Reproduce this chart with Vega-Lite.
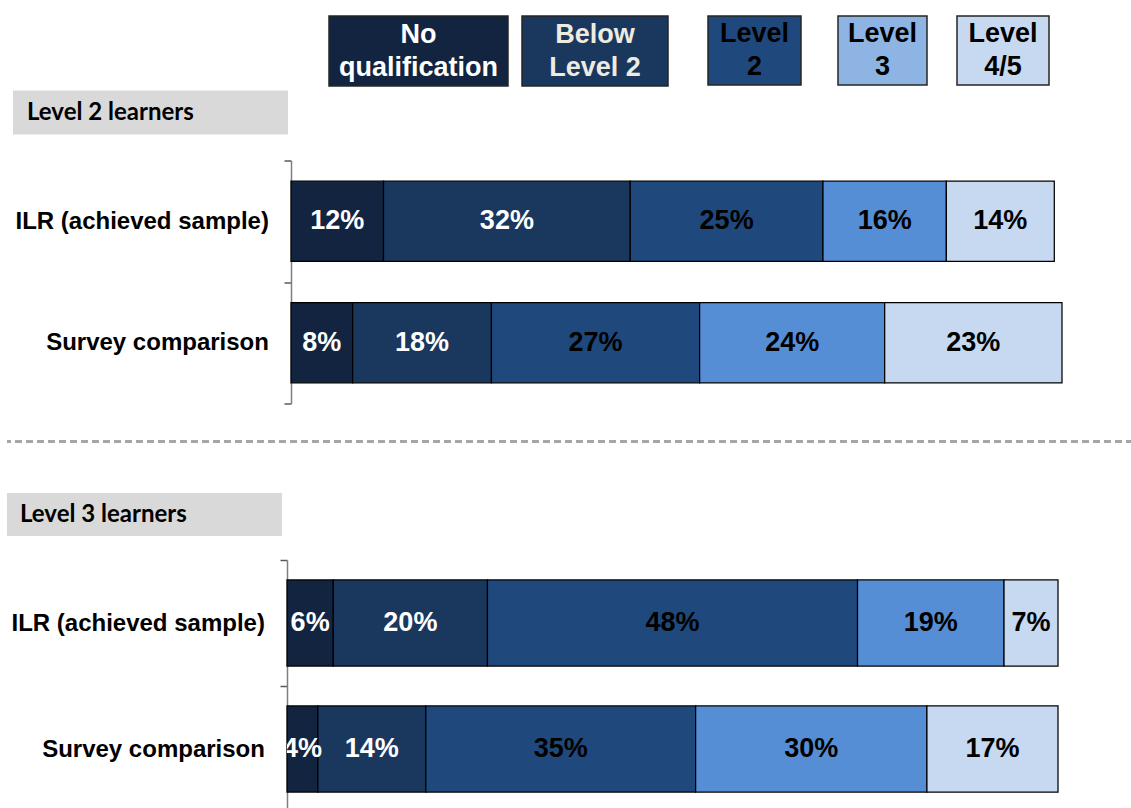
{
  "$schema": "https://vega.github.io/schema/vega-lite/v6.json",
  "background": "white",
  "padding": {"left": 5, "top": 15, "right": 0, "bottom": 0},
  "datasets": {
    "bars": [
      {"panel": "L2", "row": "ILR (achieved sample)", "category": "No qualification", "rank": 1, "value": 0.12},
      {"panel": "L2", "row": "ILR (achieved sample)", "category": "Below Level 2", "rank": 2, "value": 0.32},
      {"panel": "L2", "row": "ILR (achieved sample)", "category": "Level 2", "rank": 3, "value": 0.25},
      {"panel": "L2", "row": "ILR (achieved sample)", "category": "Level 3", "rank": 4, "value": 0.16},
      {"panel": "L2", "row": "ILR (achieved sample)", "category": "Level 4/5", "rank": 5, "value": 0.14},
      {"panel": "L2", "row": "Survey comparison", "category": "No qualification", "rank": 1, "value": 0.08},
      {"panel": "L2", "row": "Survey comparison", "category": "Below Level 2", "rank": 2, "value": 0.18},
      {"panel": "L2", "row": "Survey comparison", "category": "Level 2", "rank": 3, "value": 0.27},
      {"panel": "L2", "row": "Survey comparison", "category": "Level 3", "rank": 4, "value": 0.24},
      {"panel": "L2", "row": "Survey comparison", "category": "Level 4/5", "rank": 5, "value": 0.23},
      {"panel": "L3", "row": "ILR (achieved sample)", "category": "No qualification", "rank": 1, "value": 0.06},
      {"panel": "L3", "row": "ILR (achieved sample)", "category": "Below Level 2", "rank": 2, "value": 0.20},
      {"panel": "L3", "row": "ILR (achieved sample)", "category": "Level 2", "rank": 3, "value": 0.48},
      {"panel": "L3", "row": "ILR (achieved sample)", "category": "Level 3", "rank": 4, "value": 0.19},
      {"panel": "L3", "row": "ILR (achieved sample)", "category": "Level 4/5", "rank": 5, "value": 0.07},
      {"panel": "L3", "row": "Survey comparison", "category": "No qualification", "rank": 1, "value": 0.04},
      {"panel": "L3", "row": "Survey comparison", "category": "Below Level 2", "rank": 2, "value": 0.14},
      {"panel": "L3", "row": "Survey comparison", "category": "Level 2", "rank": 3, "value": 0.35},
      {"panel": "L3", "row": "Survey comparison", "category": "Level 3", "rank": 4, "value": 0.30},
      {"panel": "L3", "row": "Survey comparison", "category": "Level 4/5", "rank": 5, "value": 0.17}
    ]
  },
  "spacing": 3.5,
  "vconcat": [
    {
      "spacing": 0,
      "hconcat": [
        {"width": 321, "height": 1, "data": {"values": []}, "mark": "point"},
        {
          "spacing": 12,
          "hconcat": [
            {"width": 179, "height": 70, "view": {"fill": "#12243F", "stroke": "#262626", "strokeWidth": 1.5},
             "data": {"values": [{"label": "No|qualification"}]},
             "mark": {"type": "text", "lineBreak": "|", "lineHeight": 33, "dy": -16.5, "font": "Liberation Sans", "fontWeight": "bold", "fontSize": 27, "color": "#FFFFFF"},
             "encoding": {"text": {"field": "label", "type": "nominal"}}},
            {
              "spacing": 38,
              "hconcat": [
                {"width": 146, "height": 70, "view": {"fill": "#1A375E", "stroke": "#262626", "strokeWidth": 1.5},
                 "data": {"values": [{"label": "Below|Level 2"}]},
                 "mark": {"type": "text", "lineBreak": "|", "lineHeight": 33, "dy": -16.5, "font": "Liberation Sans", "fontWeight": "bold", "fontSize": 27, "color": "#EEECE1"},
                 "encoding": {"text": {"field": "label", "type": "nominal"}}},
                {
                  "spacing": 35,
                  "hconcat": [
                    {"width": 93, "height": 69, "view": {"fill": "#1F497D", "stroke": "#262626", "strokeWidth": 1.5},
                     "data": {"values": [{"label": "Level|2"}]},
                     "mark": {"type": "text", "lineBreak": "|", "lineHeight": 33, "dy": -16.5, "font": "Liberation Sans", "fontWeight": "bold", "fontSize": 27, "color": "#000000"},
                     "encoding": {"text": {"field": "label", "type": "nominal"}}},
                    {
                      "spacing": 28,
                      "hconcat": [
                        {"width": 89, "height": 69, "view": {"fill": "#8DB4E2", "stroke": "#262626", "strokeWidth": 1.5},
                         "data": {"values": [{"label": "Level|3"}]},
                         "mark": {"type": "text", "lineBreak": "|", "lineHeight": 33, "dy": -16.5, "font": "Liberation Sans", "fontWeight": "bold", "fontSize": 27, "color": "#000000"},
                         "encoding": {"text": {"field": "label", "type": "nominal"}}},
                        {"width": 92, "height": 69, "view": {"fill": "#C6D9F1", "stroke": "#262626", "strokeWidth": 1.5},
                         "data": {"values": [{"label": "Level|4/5"}]},
                         "mark": {"type": "text", "lineBreak": "|", "lineHeight": 33, "dy": -16.5, "font": "Liberation Sans", "fontWeight": "bold", "fontSize": 27, "color": "#000000"},
                         "encoding": {"text": {"field": "label", "type": "nominal"}}}
                      ]
                    }
                  ]
                }
              ]
            }
          ]
        }
      ]
    },
    {
      "spacing": 14,
      "vconcat": [
        {
          "spacing": 0,
          "hconcat": [
            {"width": 6, "height": 1, "data": {"values": []}, "mark": "point"},
            {"width": 275, "height": 44, "view": {"fill": "#D9D9D9", "stroke": null},
             "data": {"values": [{"h": "Level 2 learners"}]},
             "mark": {"type": "text", "align": "left", "dx": 14, "font": "Lato", "fontWeight": "bold", "fontSize": 24, "color": "#000000"},
             "encoding": {
               "text": {"field": "h", "type": "nominal"},
               "x": {"datum": 0, "type": "quantitative", "scale": {"domain": [0, 1]}, "axis": null}
             }}
          ]
        },
        {
          "spacing": 35,
          "vconcat": [
            {
              "spacing": 0,
              "hconcat": [
                {"width": 7, "height": 1, "data": {"values": []}, "mark": "point"},
                {
                  "width": 771, "height": 243,
                  "data": {"name": "bars"},
                  "transform": [
                    {"filter": "datum.panel === 'L2'"},
                    {"stack": "value", "groupby": ["row"], "sort": [{"field": "rank", "order": "ascending"}], "as": ["x0", "x1"]}
                  ],
                  "layer": [
                    {
                      "mark": {"type": "bar", "stroke": "#000000", "strokeWidth": 1.25, "height": {"band": 0.66}},
                      "encoding": {
                        "y": {"field": "row", "type": "nominal", "sort": ["ILR (achieved sample)", "Survey comparison"], "scale": {"paddingInner": 0, "paddingOuter": 0}, "axis": {"title": null}},
                        "x": {"field": "x0", "type": "quantitative", "scale": {"domain": [0, 1]}, "axis": null},
                        "x2": {"field": "x1"},
                        "color": {"field": "category", "type": "nominal", "scale": {"domain": ["No qualification", "Below Level 2", "Level 2", "Level 3", "Level 4/5"], "range": ["#12243F", "#1A375E", "#1F497D", "#558ED5", "#C6D9F1"]}, "legend": null}
                      }
                    },
                    {
                      "transform": [
                        {"fold": ["x0", "x1"], "as": ["edge", "pos"]},
                        {"aggregate": [{"op": "mean", "field": "pos", "as": "mid"}], "groupby": ["row", "category", "value"]}
                      ],
                      "mark": {"type": "text", "font": "Liberation Sans", "fontWeight": "bold", "fontSize": 27, "clip": true},
                      "encoding": {
                        "y": {"field": "row", "type": "nominal", "sort": ["ILR (achieved sample)", "Survey comparison"]},
                        "x": {"field": "mid", "type": "quantitative", "axis": null},
                        "text": {"field": "value", "type": "quantitative", "format": ".0%"},
                        "fill": {"field": "category", "type": "nominal", "scale": {"domain": ["No qualification", "Below Level 2", "Level 2", "Level 3", "Level 4/5"], "range": ["#FFFFFF", "#FFFFFF", "#000000", "#000000", "#000000"]}, "legend": null}
                      }
                    }
                  ]
                }
              ]
            },
            {
              "spacing": 49.5,
              "vconcat": [
                {"width": 1126, "height": 2,
                 "data": {"values": [{"sep": 0}]},
                 "mark": {"type": "rule", "color": "#A6A6A6", "strokeWidth": 3, "strokeDash": [7, 4]},
                 "encoding": {"y": {"field": "sep", "type": "quantitative", "scale": {"domain": [-1, 1]}, "axis": null}}},
                {
                  "spacing": 12,
                  "vconcat": [
                    {"width": 275, "height": 43, "view": {"fill": "#D9D9D9", "stroke": null},
                     "data": {"values": [{"h": "Level 3 learners"}]},
                     "mark": {"type": "text", "align": "left", "dx": 13, "font": "Lato", "fontWeight": "bold", "fontSize": 24, "color": "#000000"},
                     "encoding": {
                       "text": {"field": "h", "type": "nominal"},
                       "x": {"datum": 0, "type": "quantitative", "scale": {"domain": [0, 1]}, "axis": null}
                     }},
                    {
                      "spacing": 0,
                      "hconcat": [
                        {"width": 3, "height": 1, "data": {"values": []}, "mark": "point"},
                        {
                          "width": 771, "height": 252,
                          "data": {"name": "bars"},
                          "transform": [
                            {"filter": "datum.panel === 'L3'"},
                            {"stack": "value", "groupby": ["row"], "sort": [{"field": "rank", "order": "ascending"}], "as": ["x0", "x1"]}
                          ],
                          "layer": [
                            {
                              "mark": {"type": "bar", "stroke": "#000000", "strokeWidth": 1.25, "height": {"band": 0.683}},
                              "encoding": {
                                "y": {"field": "row", "type": "nominal", "sort": ["ILR (achieved sample)", "Survey comparison"], "scale": {"paddingInner": 0, "paddingOuter": 0}, "axis": {"title": null}},
                                "x": {"field": "x0", "type": "quantitative", "scale": {"domain": [0, 1]}, "axis": null},
                                "x2": {"field": "x1"},
                                "color": {"field": "category", "type": "nominal", "scale": {"domain": ["No qualification", "Below Level 2", "Level 2", "Level 3", "Level 4/5"], "range": ["#12243F", "#1A375E", "#1F497D", "#558ED5", "#C6D9F1"]}, "legend": null}
                              }
                            },
                            {
                              "transform": [
                                {"fold": ["x0", "x1"], "as": ["edge", "pos"]},
                                {"aggregate": [{"op": "mean", "field": "pos", "as": "mid"}], "groupby": ["row", "category", "value"]}
                              ],
                              "mark": {"type": "text", "font": "Liberation Sans", "fontWeight": "bold", "fontSize": 27, "clip": true},
                              "encoding": {
                                "y": {"field": "row", "type": "nominal", "sort": ["ILR (achieved sample)", "Survey comparison"]},
                                "x": {"field": "mid", "type": "quantitative", "axis": null},
                                "text": {"field": "value", "type": "quantitative", "format": ".0%"},
                                "fill": {"field": "category", "type": "nominal", "scale": {"domain": ["No qualification", "Below Level 2", "Level 2", "Level 3", "Level 4/5"], "range": ["#FFFFFF", "#FFFFFF", "#000000", "#000000", "#000000"]}, "legend": null}
                              }
                            }
                          ]
                        }
                      ]
                    }
                  ]
                }
              ]
            }
          ]
        }
      ]
    }
  ],
  "config": {
    "view": {"stroke": null},
    "axis": {
      "labelFont": "Liberation Sans",
      "labelFontWeight": "bold",
      "labelFontSize": 24,
      "labelColor": "#000000",
      "labelLimit": 400,
      "labelPadding": 15.6,
      "domainColor": "#7F7F7F",
      "domainWidth": 1.5,
      "tickColor": "#595959",
      "tickWidth": 1.5,
      "tickSize": 7,
      "tickBand": "extent",
      "grid": false
    }
  }
}
